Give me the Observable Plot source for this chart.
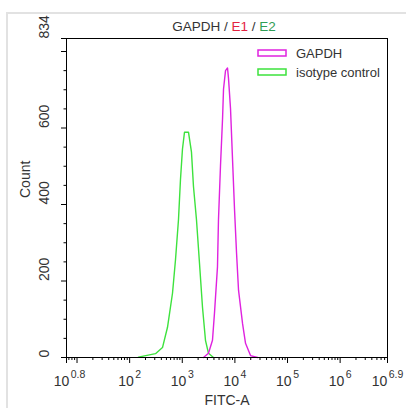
<!DOCTYPE html>
<html>
<head>
<meta charset="utf-8">
<script src="https://cdn.jsdelivr.net/npm/d3@7"></script>
<script src="https://cdn.jsdelivr.net/npm/@observablehq/plot@0.6"></script>
<style>
  html, body { margin: 0; padding: 0; background: #fff; }
  #chart { width: 406px; height: 408px; overflow: hidden; }
</style>
</head>
<body>
<div id="chart"></div>
<script>
// ---- Data (FITC-A intensity, Count) ----
const gapdhFitc  = [2529, 3148, 3750, 4093, 4667, 4875, 5321, 5821, 6081, 6637, 7244, 7568, 8260, 9016, 9840, 10740, 11722, 13964, 15922, 19815, 26915];
const gapdhCount = [0,    11,   45,   116,  237,  360,  500,  623,  702,  750,  757,  729,  650,  518,  387,  274,   176,   89,    37,    5,     0];

const isoFitc  = [147, 310, 421, 524, 652, 743, 847, 925, 1009, 1102, 1312, 1496, 1633, 1862, 2123, 2421, 2761, 3148, 3917];
const isoCount = [1,   10,  26,  79,  168, 255, 360, 466, 545,  589,  589,  537,  447,  360,  247,  132,  45,   11,   0];

const seriesNames  = ["GAPDH", "isotype control"];
const seriesColors = ["#df22df", "#3de23d"];

// axis tick labels
const xLabelExps   = ["0.8", "2", "3", "4", "5", "6", "6.9"];
const xMajorExps   = [0.8, 1, 2, 3, 4, 5, 6, 6.9];
const yLabelTicks  = [0, 200, 400, 600, 834];
const yMajorTicks  = [0, 200, 400, 600, 800];
const yMinorStep   = 50;
const yMax = 834;
const xDomainExps = [0.8, 6.9];

const titleParts = [["GAPDH", "#333"], [" / ", "#333"], ["E1", "#e3223f"], [" / ", "#333"], ["E2", "#2f9e55"]];
const xTitle = "FITC-A";
const yTitle = "Count";

// ---- Build tables ----
const gapdh = gapdhFitc.map((x, i) => ({x, y: gapdhCount[i]}));
const iso   = isoFitc.map((x, i) => ({x, y: isoCount[i]}));

const xMin = 10 ** xDomainExps[0], xMax = 10 ** xDomainExps[1];
const xMajor = xMajorExps.map(e => 10 ** e);
const xMinor = [];
for (let d = 0; d <= 6; d++) for (let m = 2; m <= 9; m++) {
  const v = m * 10 ** d;
  if (v > xMin && v < xMax) xMinor.push(v);
}
const yMinor = d3.range(0, yMax, yMinorStep).filter(v => !yMajorTicks.includes(v));
const xLabels = xLabelExps.map(e => ({x: 10 ** (+e), label: "10^" + e}));

const font = "'Liberation Sans', Arial, sans-serif";

const chart = Plot.plot({
  width: 406,
  height: 408,
  marginLeft: 66,
  marginRight: 19,
  marginTop: 38,
  marginBottom: 51,
  style: {fontFamily: font, fontSize: "14px", color: "#333", background: "white", overflow: "visible"},
  x: {type: "log", domain: [xMin, xMax], label: null},
  y: {domain: [0, yMax], label: null},
  marks: [
    Plot.line(iso,   {x: "x", y: "y", stroke: seriesColors[1], strokeWidth: 1.4}),
    Plot.line(gapdh, {x: "x", y: "y", stroke: seriesColors[0], strokeWidth: 1.4}),
    Plot.axisX({ticks: xMinor, tickSize: 3, tickFormat: () => "", label: null, stroke: "black"}),
    Plot.axisX({ticks: xMajor, tickSize: 6, tickFormat: () => "", label: null, stroke: "black"}),
    Plot.text(xLabels, {x: "x", text: "label", frameAnchor: "bottom", dy: 28, fill: "#333", lineAnchor: "bottom"}),
    Plot.axisY({ticks: yMinor, tickSize: 2.5, tickFormat: () => "", label: null, stroke: "black"}),
    Plot.axisY({ticks: yMajorTicks.concat([yMax]), tickSize: 5, tickFormat: () => "", label: null, stroke: "black"}),
    Plot.text(yLabelTicks, {y: d => d, text: d => String(d), frameAnchor: "left", dx: -22, rotate: -90, fill: "#333"}),
    Plot.text([yTitle], {text: d => d, frameAnchor: "left", dx: -41, rotate: -90, fill: "#333"}),
    Plot.text([xTitle], {text: d => d, frameAnchor: "bottom", dy: 38, lineAnchor: "top", fill: "#333"}),
    Plot.frame({stroke: "black", strokeWidth: 1})
  ]
});

const svg = d3.select(chart);

// superscript tick labels
svg.selectAll("text").each(function() {
  const t = this.textContent;
  if (t.startsWith("10^")) {
    const e = t.slice(3);
    const sel = d3.select(this);
    sel.text(null);
    sel.append("tspan").text("10");
    sel.append("tspan").attr("dx", "1.5").attr("dy", "-8").attr("font-size", "10.5px").text(e);
    if (e === "0.8") sel.attr("dx", 3);
  }
});

// light figure border
svg.insert("path", ":first-child")
  .attr("d", "M7,408V13H406")
  .attr("fill", "none").attr("stroke", "#e2e2e2").attr("stroke-width", 2);

// title
const title = svg.append("text")
  .attr("x", 224).attr("y", 31)
  .attr("text-anchor", "middle")
  .attr("font-family", font).attr("font-size", "13.5px");
titleParts.forEach(([s, c]) => title.append("tspan").attr("fill", c).text(s));

// legend
const legendY = [50, 69];
seriesNames.forEach((name, i) => {
  svg.append("rect").attr("x", 258).attr("y", legendY[i]).attr("width", 28).attr("height", 6)
    .attr("fill", "none").attr("stroke", seriesColors[i]).attr("stroke-width", 1.5);
  svg.append("text").attr("x", 296).attr("y", legendY[i] + 8)
    .attr("text-anchor", "start")
    .attr("font-family", font).attr("font-size", "13px").attr("fill", "#333").text(name);
});

document.getElementById("chart").appendChild(chart);
</script>
</body>
</html>
